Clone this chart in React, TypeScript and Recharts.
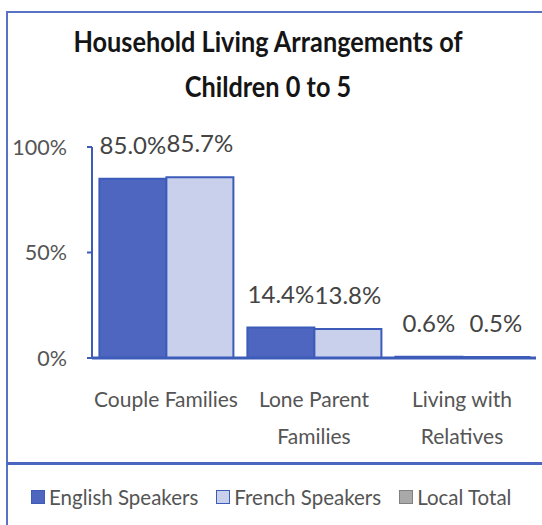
import React from 'react';
import { BarChart, Bar, XAxis, YAxis, Legend, LabelList } from 'recharts';

const categories = ['Couple Families', 'Lone Parent\nFamilies', 'Living with\nRelatives'];
const englishSpeakers = [85.0, 14.4, 0.6];
const frenchSpeakers = [85.7, 13.8, 0.5];
const yTicks = [0, 50, 100];
const titleLines = ['Household Living Arrangements of', 'Children 0 to 5'];
const legendItems = [
  { name: 'English Speakers', fill: '#4e66bf', stroke: '#3d5cba' },
  { name: 'French Speakers', fill: '#c8d0ec', stroke: '#3d5cba' },
  { name: 'Local Total', fill: '#a9a9a9', stroke: '#808080' },
];

const data = categories.map((c, i) => ({
  category: c,
  english: englishSpeakers[i],
  french: frenchSpeakers[i],
}));

const FONT = 'Lato, "Open Sans", sans-serif';
const TEXT = '#555555';
const BLUE = '#3d5cba';

const XTick = (props: any) => {
  const { x, y, payload } = props;
  const lines = String(payload.value).split('\n');
  return (
    <text x={x} y={y} textAnchor="middle" fill={TEXT} fontFamily={FONT} fontSize={21}>
      {lines.map((l, i) => (
        <tspan key={i} x={x} dy={i === 0 ? 41 : 37}>{l}</tspan>
      ))}
    </text>
  );
};

const LegendContent = () => (
  <div style={{ display: 'flex', alignItems: 'center', height: 25, fontFamily: FONT, fontSize: 20.5, color: TEXT }}>
    {legendItems.map((it, i) => (
      <div key={i} style={{ display: 'flex', alignItems: 'center', marginLeft: i === 0 ? 31 : 18 }}>
        <span style={{ display: 'inline-block', width: 12, height: 12, background: it.fill, border: `1.5px solid ${it.stroke}`, marginRight: 4 }} />
        <span>{it.name}</span>
      </div>
    ))}
  </div>
);

export default function App() {
  return (
    <div style={{ position: 'fixed', left: 0, top: 0, width: 542, height: 525, background: '#fff', overflow: 'hidden' }}>
      <div style={{ position: 'absolute', left: 6, top: 11, right: 0, bottom: 0, borderLeft: '2px solid #5a72c4', borderTop: '2px solid #5a72c4' }} />
      <div style={{ position: 'absolute', left: 7, top: 462, right: 0, height: 3, background: '#4a66c0' }} />
      {titleLines.map((t, i) => (
        <div key={i} style={{ position: 'absolute', left: 0, width: 536, top: i === 0 ? 28 : 73, height: 30, textAlign: 'center', fontFamily: FONT, fontWeight: 700, fontSize: 25.3, lineHeight: '30px', color: '#151515', transform: 'scaleY(1.12)', transformOrigin: '50% 100%', whiteSpace: 'nowrap' }}>
          {t}
        </div>
      ))}
      <div style={{ position: 'absolute', left: 0, top: 0 }}>
        <BarChart width={542} height={525} data={data} margin={{ top: 147, right: 6, bottom: 112, left: 0 }} barCategoryGap="5%" barGap={0}>
          <YAxis
            width={92}
            domain={[0, 100]}
            ticks={yTicks}
            tickFormatter={(v: number) => `${v}%`}
            axisLine={{ stroke: BLUE, strokeWidth: 2 }}
            tickLine={{ stroke: BLUE, strokeWidth: 2 }}
            tickSize={5}
            tickMargin={20}
            tick={{ fill: TEXT, fontFamily: FONT, fontSize: 21.5 }}
          />
          <XAxis
            dataKey="category"
            height={30}
            axisLine={{ stroke: BLUE, strokeWidth: 3 }}
            tickLine={false}
            tick={<XTick />}
            interval={0}
          />
          <Legend content={<LegendContent />} verticalAlign="bottom" wrapperStyle={{ top: 484, left: 0, width: 542, height: 25 }} />
          <Bar dataKey="english" name="English Speakers" fill="#4e66bf" stroke={BLUE} strokeWidth={2} isAnimationActive={false}>
            <LabelList dataKey="english" position="top" offset={25} formatter={(v: number) => `${v.toFixed(1)}%`} fill="#444" fontFamily={FONT} fontSize={24} />
          </Bar>
          <Bar dataKey="french" name="French Speakers" fill="#c8d0ec" stroke={BLUE} strokeWidth={2} isAnimationActive={false}>
            <LabelList dataKey="french" position="top" offset={25} formatter={(v: number) => `${v.toFixed(1)}%`} fill="#444" fontFamily={FONT} fontSize={24} />
          </Bar>
        </BarChart>
      </div>
    </div>
  );
}
